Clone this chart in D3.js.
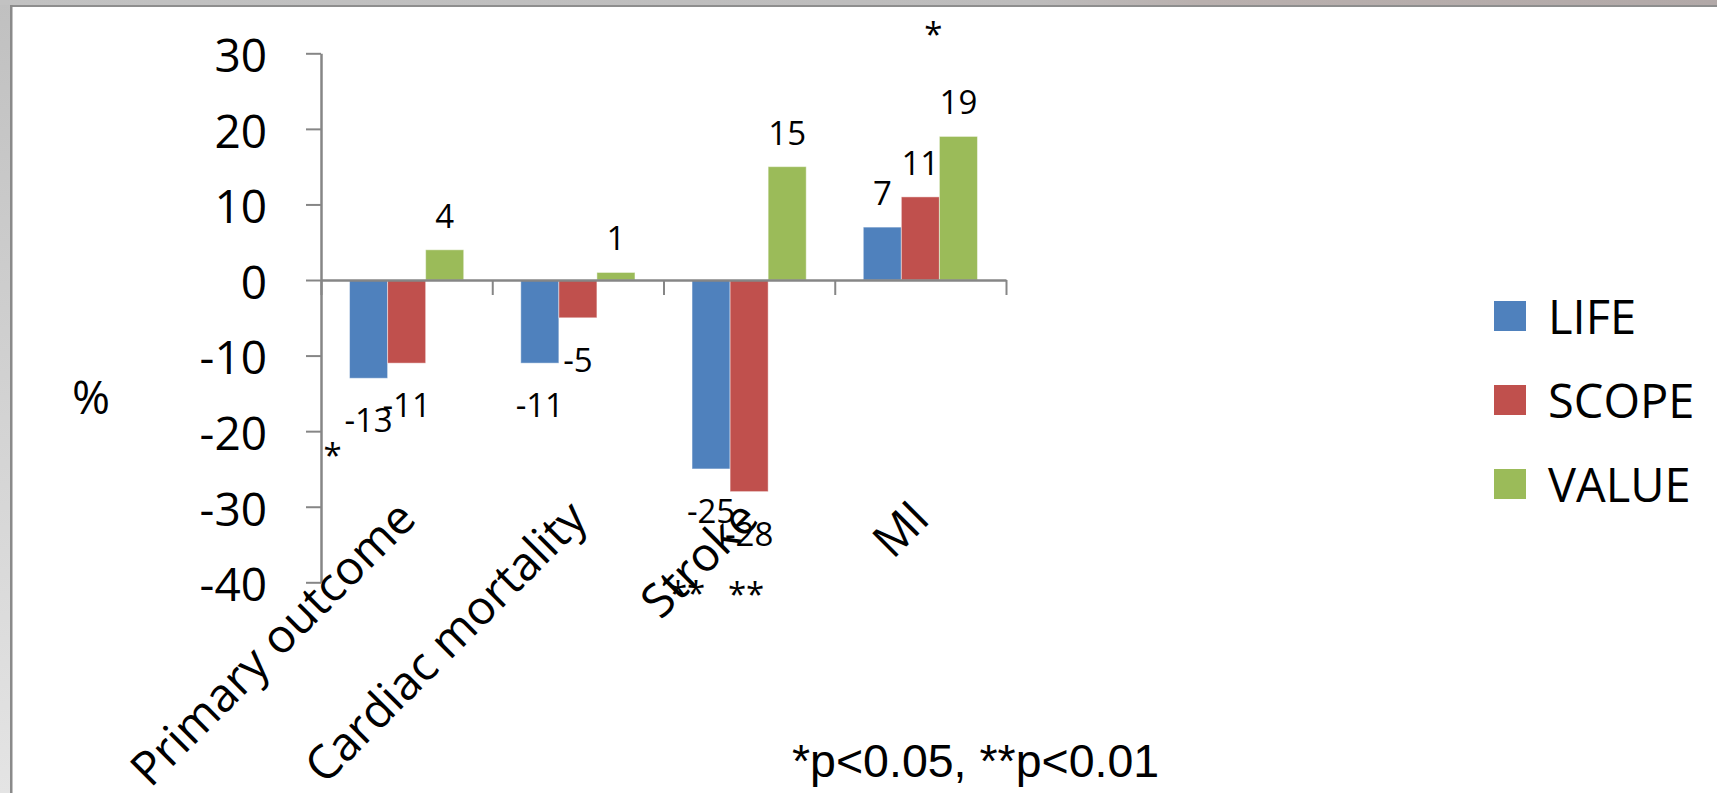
<!DOCTYPE html>
<html>
<head>
<meta charset="utf-8">
<script src="https://cdn.jsdelivr.net/npm/d3@7/dist/d3.min.js"></script>
<style>
  html, body { margin: 0; padding: 0; background: #ffffff; }
  svg { display: block; }
</style>
</head>
<body>
<svg id="chart" width="1717" height="793"></svg>
<script>
// Relative change (%) per trial and endpoint
const categories = ["Primary outcome", "Cardiac mortality", "Stroke", "MI"];
const seriesNames = ["LIFE", "SCOPE", "VALUE"];
const lifeValues  = [-13, -11, -25, 7];
const scopeValues = [-11, -5, -28, 11];
const valueValues = [4, 1, 15, 19];
const yTicks = [30, 20, 10, 0, -10, -20, -30, -40];
const seriesColors = ["#4F81BD", "#C0504D", "#9BBB59"];

// Significance flags per series, aligned with categories
const lifeSig  = ["*", "", "**", ""];
const scopeSig = ["", "", "**", ""];
const valueSig = ["", "", "", "*"];
const footnote = "*p<0.05, **p<0.01";
const yTitle = "%";

const seriesValues = [lifeValues, scopeValues, valueValues];
const seriesSig = [lifeSig, scopeSig, valueSig];

const svg = d3.select("#chart");
const W = 1717, H = 793;
const FONT = "'Open Sans', 'Noto Sans', sans-serif";

// ---- slide frame ----
const defs = svg.append("defs");
const gTop = defs.append("linearGradient").attr("id", "topBand").attr("x1", 0).attr("x2", 1).attr("y1", 0).attr("y2", 0);
gTop.append("stop").attr("offset", "0%").attr("stop-color", "#c2c2c2");
gTop.append("stop").attr("offset", "60%").attr("stop-color", "#bdbcbc");
gTop.append("stop").attr("offset", "70%").attr("stop-color", "#b9b0ae");
gTop.append("stop").attr("offset", "100%").attr("stop-color", "#b2a9a8");
const gLeft = defs.append("linearGradient").attr("id", "leftBand").attr("x1", 0).attr("x2", 0).attr("y1", 0).attr("y2", 1);
gLeft.append("stop").attr("offset", "0%").attr("stop-color", "#c0c0c0");
gLeft.append("stop").attr("offset", "100%").attr("stop-color", "#e4e4e4");

svg.append("rect").attr("x", 0).attr("y", 0).attr("width", W).attr("height", H).attr("fill", "#ffffff");
svg.append("rect").attr("x", 0).attr("y", 0).attr("width", 11).attr("height", H).attr("fill", "url(#leftBand)");
svg.append("rect").attr("x", 0).attr("y", 0).attr("width", W).attr("height", 5).attr("fill", "url(#topBand)");
svg.append("rect").attr("x", 10).attr("y", 5).attr("width", W - 10).attr("height", 2).attr("fill", "#8e8e8e");
svg.append("rect").attr("x", 10).attr("y", 5).attr("width", 2.5).attr("height", H - 5).attr("fill", "#8a8a8a");

// ---- scales ----
const plotLeft = 321, plotRight = 1006;
const y = d3.scaleLinear().domain([-40, 30]).range([582.3, 53.3]);
const x0 = d3.scaleBand().domain(categories).range([plotLeft, plotRight]).paddingInner(0).paddingOuter(0);
const x1 = d3.scaleBand().domain(seriesNames).range([0, x0.bandwidth()]).paddingInner(0).paddingOuter(0.75);
const xIndex = d3.scaleLinear().domain([0, categories.length]).range([plotLeft, plotRight]);

// ---- bars ----
const barData = [];
categories.forEach((c, ci) => {
  seriesNames.forEach((s, si) => {
    barData.push({ cat: c, series: s, si, ci, value: seriesValues[si][ci], sig: seriesSig[si][ci] });
  });
});

svg.append("g").selectAll("rect").data(barData).join("rect")
  .attr("x", d => x0(d.cat) + x1(d.series))
  .attr("y", d => y(Math.max(0, d.value)))
  .attr("width", x1.bandwidth())
  .attr("height", d => Math.abs(y(d.value) - y(0)))
  .attr("fill", d => seriesColors[d.si])
  .attr("stroke", "rgba(255,255,255,0.45)")
  .attr("stroke-width", 1);

// ---- axes ----
const axisColor = "#868686";
const yAxis = svg.append("g").attr("transform", `translate(${plotLeft},0)`)
  .call(d3.axisLeft(y).tickValues(yTicks).tickSize(15).tickSizeOuter(0).tickPadding(39).tickFormat(d3.format("d")));
yAxis.select(".domain").attr("stroke", axisColor).attr("stroke-width", 2.5);
yAxis.selectAll(".tick line").attr("stroke", axisColor).attr("stroke-width", 2);
yAxis.selectAll(".tick text")
  .attr("font-family", FONT).attr("font-size", 46).attr("fill", "#000").attr("dy", "0.40em")
  .text(d => d < 0 ? "-" + Math.abs(d) : d);

const xAxis = svg.append("g").attr("transform", `translate(0,${y(0)})`)
  .call(d3.axisBottom(xIndex).tickValues(d3.range(0, categories.length + 1)).tickSize(15).tickSizeOuter(0).tickFormat(""));
xAxis.select(".domain").attr("stroke", axisColor).attr("stroke-width", 2.5);
xAxis.selectAll(".tick line").attr("stroke", axisColor).attr("stroke-width", 2);

// ---- category labels (rotated) ----
svg.append("g").selectAll("text").data(categories).join("text")
  .attr("transform", d => `translate(${x0(d) + x0.bandwidth() / 2 + 11.5},521) rotate(-45)`)
  .attr("text-anchor", "end")
  .attr("font-family", FONT).attr("font-size", 47).attr("fill", "#000")
  .text(d => d);

// ---- value labels ----
const barCenter = d => x0(d.cat) + x1(d.series) + x1.bandwidth() / 2;
const labelBaseline = d => d.value >= 0 ? y(d.value) - 22 : y(d.value) + 54;
svg.append("g").selectAll("text").data(barData).join("text")
  .attr("x", barCenter)
  .attr("y", labelBaseline)
  .attr("text-anchor", "middle")
  .attr("font-family", FONT).attr("font-size", 33).attr("fill", "#000")
  .text(d => d.value < 0 ? "-" + Math.abs(d.value) : d.value);

// ---- significance markers, offset from each bar's label ----
const markerOffset = {
  "Primary outcome|LIFE": [-36, 35],
  "Stroke|LIFE": [-24, 82],
  "Stroke|SCOPE": [-3, 60],
  "MI|VALUE": [-25, -68]
};
svg.append("g").selectAll("text").data(barData.filter(d => d.sig)).join("text")
  .attr("x", d => barCenter(d) + markerOffset[d.cat + "|" + d.series][0])
  .attr("y", d => labelBaseline(d) + markerOffset[d.cat + "|" + d.series][1])
  .attr("text-anchor", "middle")
  .attr("font-family", FONT).attr("font-size", 33).attr("fill", "#000")
  .text(d => d.sig);

// ---- axis title ----
svg.append("text").attr("x", 91).attr("y", 414).attr("text-anchor", "middle")
  .attr("font-family", FONT).attr("font-size", 46).attr("fill", "#000").text(yTitle);

// ---- legend ----
const legend = svg.append("g").selectAll("g").data(seriesNames).join("g")
  .attr("transform", (d, i) => `translate(1494,${301 + i * 84})`);
legend.append("rect").attr("width", 32).attr("height", 30).attr("fill", (d, i) => seriesColors[i]);
legend.append("text").attr("x", 54).attr("y", 33)
  .attr("font-family", FONT).attr("font-size", 47).attr("fill", "#000").text(d => d);

// ---- footnote ----
svg.append("text").attr("x", 792).attr("y", 777)
  .attr("font-family", "'Liberation Sans', Arial, sans-serif").attr("font-size", 46.5).attr("fill", "#000")
  .text(footnote);
</script>
</body>
</html>
